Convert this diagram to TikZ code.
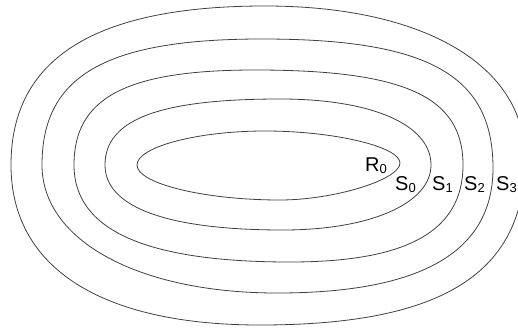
\documentclass[tikz,border=0pt]{standalone}
\usepackage{fontspec}
\setmainfont{Liberation Sans}
\begin{document}
\begin{tikzpicture}[x=1pt,y=-1pt,
  contour/.style={line width=0.8pt,draw=black!75},
  lbl/.style={anchor=base west,inner sep=0pt,font=\fontsize{20}{20}\selectfont}]
\useasboundingbox (0,0) rectangle (518,329);
\clip (0,0) rectangle (518,329);
\newcommand{\lab}[2]{#1\raisebox{-2.5pt}{\fontsize{13}{13}\selectfont #2}}
% roundness of the four quarters: left-top, top-right, right-bottom, bottom-left
\newcommand{\setround}[4]{\def\kA{#1}\def\kB{#2}\def\kC{#3}\def\kD{#4}}
% closed curve: left (#1,#2), top (#3,#4), right (#5,#6), bottom (#7,#8)
\newcommand{\eggcurve}[8]{%
  \draw[contour] (#1,#2)
    .. controls ({#1},{#2-\kA*(#2-#4)}) and ({#3-\kA*(#3-#1)},{#4}) .. (#3,#4)
    .. controls ({#3+\kB*(#5-#3)},{#4}) and ({#5},{#6-\kB*(#6-#4)}) .. (#5,#6)
    .. controls ({#5},{#6+\kC*(#8-#6)}) and ({#7+\kC*(#5-#7)},{#8}) .. (#7,#8)
    .. controls ({#7-\kD*(#7-#1)},{#8}) and ({#1},{#2+\kD*(#8-#2)}) .. cycle;}
\setround{0.53}{0.51}{0.45}{0.53}
\eggcurve{137}{165}{265}{131}{400}{163}{280}{200}
\setround{0.69}{0.61}{0.59}{0.65}
\eggcurve{105}{165}{280}{99}{431}{165}{283}{230}
\setround{0.71}{0.72}{0.68}{0.67}
\eggcurve{74}{165}{255}{70}{463}{165}{290}{262}
\setround{0.71}{0.72}{0.67}{0.59}
\eggcurve{42}{165}{262}{39}{493}{168}{277}{293}
\setround{0.67}{0.61}{0.69}{0.64}
\eggcurve{11}{165}{265}{6}{525}{158}{260}{325}
\node[lbl] (r0) at (365,171) {\lab{R}{0}};
\node[lbl] (s0) at (395,190) {\lab{S}{0}};
\node[lbl] (s1) at (432,190) {\lab{S}{1}};
\node[lbl] (s2) at (464,190) {\lab{S}{2}};
\node[lbl] (s3) at (496,190) {\lab{S}{3}};
\end{tikzpicture}
\end{document}
